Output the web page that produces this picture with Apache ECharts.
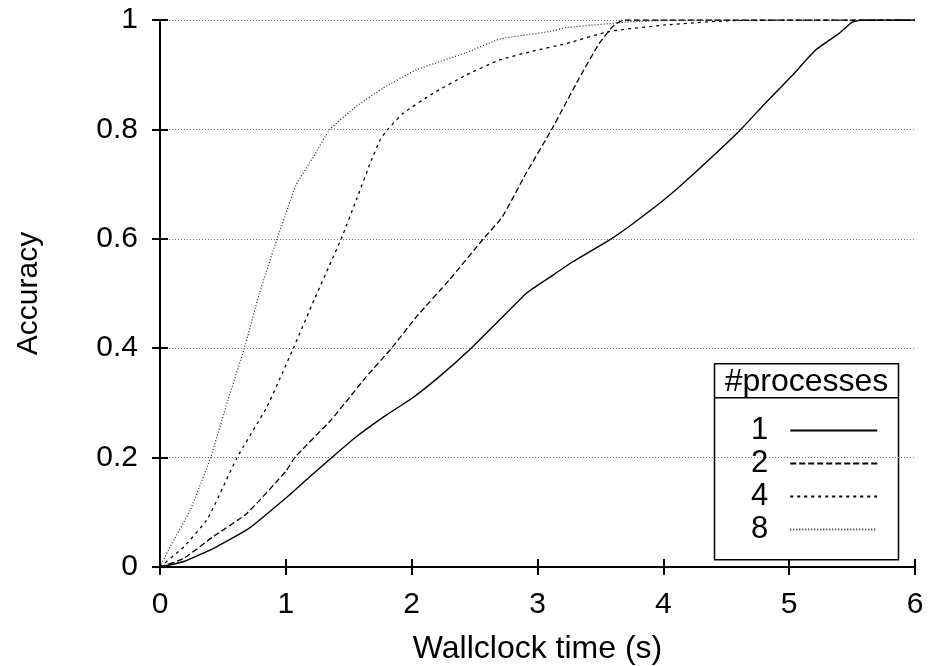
<!DOCTYPE html>
<html>
<head>
<meta charset="utf-8">
<script src="https://cdn.jsdelivr.net/npm/echarts@6/dist/echarts.min.js"></script>
<style>
  html, body { margin: 0; padding: 0; background: #fff; }
  #chart { width: 931px; height: 666px; }
</style>
</head>
<body>
<div id="chart"></div>
<script>
// wallclock time (s) vs accuracy, one array per process count
const p1 = [
  [0, 0], [0.19, 0.01], [0.45, 0.037], [0.71, 0.071], [1.0, 0.126], [1.19, 0.165],
  [1.36, 0.199], [1.56, 0.238], [1.8, 0.278], [2.0, 0.308], [2.22, 0.348],
  [2.46, 0.397], [2.7, 0.452], [2.91, 0.5], [3.1, 0.53], [3.28, 0.558],
  [3.58, 0.599], [3.76, 0.628], [4.02, 0.674], [4.29, 0.729], [4.6, 0.796],
  [4.81, 0.848], [5.03, 0.9], [5.21, 0.945], [5.4, 0.976], [5.5, 0.996],
  [5.58, 1.0], [6, 1.0]
];
const p2 = [
  [0, 0], [0.19, 0.016], [0.42, 0.055], [0.69, 0.098], [1.0, 0.175], [1.07, 0.2],
  [1.36, 0.269], [1.64, 0.348], [1.84, 0.4], [2.04, 0.458], [2.3, 0.525],
  [2.57, 0.6], [2.72, 0.64], [2.91, 0.72], [3.11, 0.799], [3.33, 0.893],
  [3.49, 0.957], [3.61, 0.991], [3.69, 1.0], [6, 1.0]
];
const p4 = [
  [0, 0], [0.19, 0.037], [0.38, 0.089], [0.61, 0.199], [0.85, 0.293], [1.06, 0.4],
  [1.23, 0.491], [1.44, 0.6], [1.56, 0.671], [1.68, 0.744], [1.75, 0.781],
  [1.81, 0.8], [1.93, 0.829], [2.17, 0.866], [2.43, 0.899], [2.7, 0.927],
  [2.96, 0.943], [3.23, 0.957], [3.57, 0.979], [4.02, 0.991], [4.55, 0.999],
  [6, 1.0]
];
const p8 = [
  [0, 0], [0.08, 0.037], [0.24, 0.104], [0.4, 0.199], [0.54, 0.305], [0.67, 0.4],
  [0.79, 0.5], [0.93, 0.6], [1.02, 0.659], [1.08, 0.698], [1.22, 0.75],
  [1.35, 0.8], [1.56, 0.842], [1.77, 0.875], [2.04, 0.909], [2.43, 0.94],
  [2.7, 0.965], [3.1, 0.979], [3.23, 0.986], [3.76, 0.997], [4.29, 1.0], [6, 1.0]
];
const seriesNames = ["1", "2", "4", "8"];

const font = "Liberation Sans";
const chart = echarts.init(document.getElementById("chart"), null, { renderer: "canvas" });

const lineSeries = (name, data, dash, color, width) => ({
  name: name,
  type: "line",
  data: data,
  symbol: "none",
  smooth: 0.15,
  itemStyle: { color: color },
  lineStyle: { color: color, width: width, type: dash },
  animation: false,
});

const tickOnly = {
  axisLine: { show: true, lineStyle: { color: "#000", width: 2 } },
  axisTick: { show: true, inside: true, length: 8, lineStyle: { color: "#000", width: 2 } },
  axisLabel: { show: false },
  splitLine: { show: false },
};

chart.setOption({
  backgroundColor: "#fff",
  animation: false,
  grid: { left: 160, right: 16, top: 20, bottom: 99, containLabel: false, outerBoundsMode: "none" },
  textStyle: { fontFamily: font },
  xAxis: [
    {
      type: "value", min: 0, max: 6, interval: 1,
      name: "Wallclock time (s)", nameLocation: "middle", nameGap: 66,
      nameTextStyle: { fontSize: 32, color: "#000", fontFamily: font },
      axisLine: { show: true, lineStyle: { color: "#000", width: 2 } },
      axisTick: { show: true, inside: true, length: 8, lineStyle: { color: "#000", width: 2 } },
      axisLabel: { fontSize: 30, color: "#000", margin: 23, fontFamily: font },
      splitLine: { show: false },
    },
    Object.assign({ type: "value", min: 0, max: 6, interval: 1, position: "top" }, tickOnly),
  ],
  yAxis: [
    {
      type: "value", min: 0, max: 1, interval: 0.2,
      name: "Accuracy", nameLocation: "middle", nameGap: 116,
      nameTextStyle: { fontSize: 30, color: "#000", fontFamily: font },
      axisLine: { show: true, lineStyle: { color: "#000", width: 2 } },
      axisTick: { show: true, inside: true, length: 8, lineStyle: { color: "#000", width: 2 } },
      axisLabel: { fontSize: 30, color: "#000", margin: 22, fontFamily: font },
      splitLine: { show: true, lineStyle: { color: "#777", width: 1, type: [1, 2] } },
    },
    Object.assign({ type: "value", min: 0, max: 1, interval: 0.2, position: "right" }, tickOnly),
  ],
  legend: {
    data: seriesNames,
    orient: "vertical",
    align: "right",
    left: 746,
    top: 410,
    itemWidth: 87,
    itemHeight: 14,
    itemGap: 2,
    selectedMode: false,
    itemStyle: { opacity: 0 },
    textStyle: { fontSize: 31, color: "#000", fontFamily: font, padding: [0, 17, 0, 0] },
  },
  graphic: [
    {
      type: "group",
      left: 712, top: 363,
      z: 5,
      children: [
        { type: "rect", shape: { x: 0, y: 0, width: 184, height: 196 },
          style: { fill: "#fff", stroke: "#000", lineWidth: 1.5 } },
        { type: "line", shape: { x1: 0, y1: 34, x2: 184, y2: 34 },
          style: { stroke: "#000", lineWidth: 1.5 } },
        { type: "text", x: 92, y: 18,
          style: { text: "#processes", font: "32px " + font, fill: "#000",
                   align: "center", verticalAlign: "middle" } },
      ],
    },
  ],
  series: [
    lineSeries("1", p1, "solid", "#000", 1.4),
    lineSeries("2", p2, [6, 3], "#000", 1.3),
    lineSeries("4", p4, [3, 4], "#000", 1.3),
    lineSeries("8", p8, [1, 2], "#222", 1.2),
  ],
});
</script>
</body>
</html>
